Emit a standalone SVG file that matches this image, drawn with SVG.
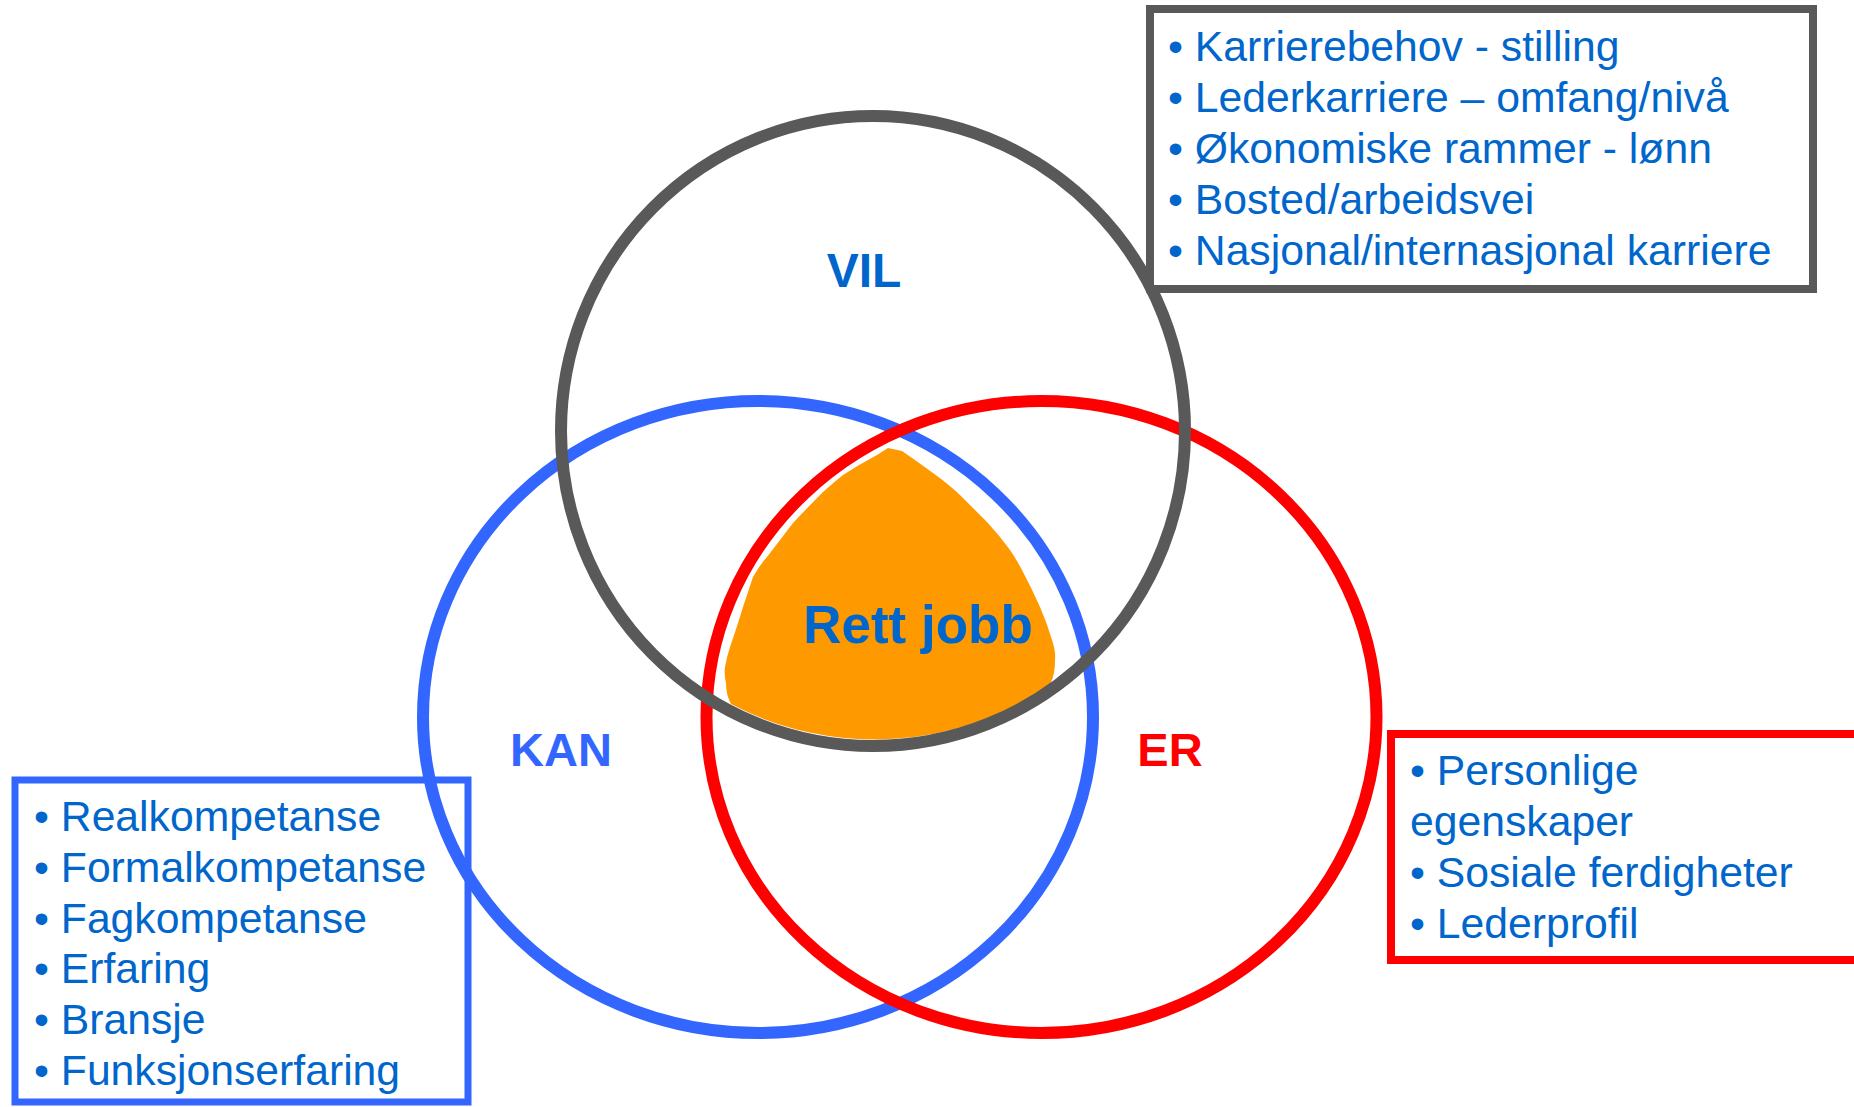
<svg xmlns="http://www.w3.org/2000/svg" width="1854" height="1107" viewBox="0 0 1854 1107">
<style>
.ring{fill:none;stroke-width:12}
.list{font-family:"Liberation Sans",Arial,sans-serif;font-size:42.7px;fill:#0066CC}
.lbl{font-family:"Liberation Sans",Arial,sans-serif;font-weight:bold;text-anchor:middle}
</style>
<rect width="1854" height="1107" fill="#FFFFFF"/>
<g id="rett-jobb">
<path d="M888,448 L902,451 Q918,462 933,473 Q950,485 963,498 Q975,510 987,522 Q1000,536 1010,550 Q1017,560 1023,572 Q1032,589 1040,607 Q1047,623 1052,640 Q1056,652 1055,660 Q1055,670 1053,677 L1050,685 A312 315 0 0 1 731,704 Q726,695 726,683 Q724,675 725,667 Q727,656 730,647 Q737,627 743,607 Q748,592 753,577 Q759,566 767,557 Q780,540 793,523 Q808,507 823,492 Q833,483 843,475 Q860,464 877,455 Z" fill="#FF9900"/>
<text class="lbl" x="918" y="643" font-size="53" fill="#0066CC">Rett jobb</text>
</g>
<g id="kan">
<ellipse class="ring" cx="758" cy="717" rx="335" ry="316" stroke="#3366FF"/>
<text class="lbl" x="561" y="766" font-size="47" fill="#3366FF">KAN</text>
</g>
<g id="er">
<ellipse class="ring" cx="1041.5" cy="717" rx="335" ry="316" stroke="#FF0000"/>
<text class="lbl" x="1170" y="766" font-size="47" fill="#FF0000">ER</text>
</g>
<g id="vil">
<ellipse class="ring" cx="873" cy="431" rx="312" ry="315" stroke="#595959"/>
<text class="lbl" x="864" y="287" font-size="48" fill="#0066CC">VIL</text>
</g>
<g id="vil-list">
<rect x="1150" y="9" width="663" height="280" fill="#FFFFFF" stroke="#595959" stroke-width="8"/>
<text class="list" x="1168" y="61">• Karrierebehov - stilling</text>
<text class="list" x="1168" y="112">• Lederkarriere – omfang/nivå</text>
<text class="list" x="1168" y="163">• Økonomiske rammer - lønn</text>
<text class="list" x="1168" y="214">• Bosted/arbeidsvei</text>
<text class="list" x="1168" y="265">• Nasjonal/internasjonal karriere</text>
</g>
<g id="kan-list">
<rect x="15" y="780" width="453" height="322" fill="none" stroke="#3366FF" stroke-width="7"/>
<text class="list" x="34" y="831">• Realkompetanse</text>
<text class="list" x="34" y="882">• Formalkompetanse</text>
<text class="list" x="34" y="933">• Fagkompetanse</text>
<text class="list" x="34" y="983">• Erfaring</text>
<text class="list" x="34" y="1034">• Bransje</text>
<text class="list" x="34" y="1085">• Funksjonserfaring</text>
</g>
<g id="er-list">
<rect x="1391" y="734" width="520" height="226" fill="#FFFFFF" stroke="#FF0000" stroke-width="8"/>
<text class="list" x="1410" y="785">• Personlige</text>
<text class="list" x="1410" y="836">egenskaper</text>
<text class="list" x="1410" y="887">• Sosiale ferdigheter</text>
<text class="list" x="1410" y="938">• Lederprofil</text>
</g>
<g id="connectors"/>
</svg>
